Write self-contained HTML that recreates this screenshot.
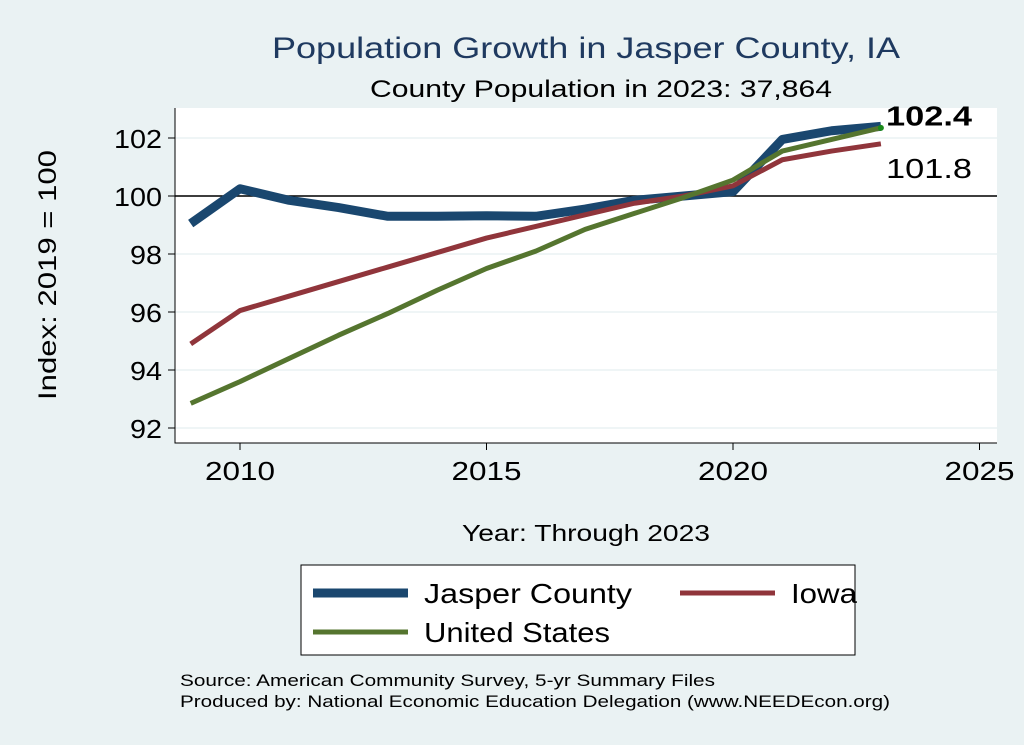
<!DOCTYPE html>
<html><head><meta charset="utf-8"><style>
body{margin:0;background:#eaf2f3;}
svg{display:block;font-family:"Liberation Sans",sans-serif;}
</style></head><body>
<svg id="chart" width="1024" height="745">
<rect x="0" y="0" width="1024" height="745" fill="#eaf2f3"/>
<text x="272" y="58" font-size="30" fill="#1f3a60" textLength="628" lengthAdjust="spacingAndGlyphs">Population Growth in Jasper County, IA</text>
<text x="370" y="97" font-size="24" fill="#000" textLength="462" lengthAdjust="spacingAndGlyphs">County Population in 2023: 37,864</text>
<rect x="175" y="108" width="822" height="335" fill="#fff"/>
<g id="grid"></g><g id="axes"></g><g id="series"></g>
<text x="56" y="400" font-size="25" textLength="250" lengthAdjust="spacingAndGlyphs" transform="rotate(-90 56 400)">Index: 2019 = 100</text>
<text x="462" y="541" font-size="23" textLength="248" lengthAdjust="spacingAndGlyphs">Year: Through 2023</text>
<g>
<rect x="301" y="565" width="554" height="90" fill="#fff" stroke="#000" stroke-width="1"/>
<line x1="313" y1="593" x2="408" y2="593" stroke="#1a476f" stroke-width="9"/>
<text x="424" y="603" font-size="28" textLength="208" lengthAdjust="spacingAndGlyphs">Jasper  County</text>
<line x1="680" y1="593" x2="775" y2="593" stroke="#90353b" stroke-width="5"/>
<text x="791" y="603" font-size="28" textLength="66" lengthAdjust="spacingAndGlyphs">Iowa</text>
<line x1="313" y1="632" x2="408" y2="632" stroke="#55752f" stroke-width="5"/>
<text x="424" y="642" font-size="28" textLength="186" lengthAdjust="spacingAndGlyphs">United States</text>
</g>
<text x="180" y="686" font-size="17" textLength="535" lengthAdjust="spacingAndGlyphs">Source: American Community Survey, 5-yr Summary Files</text>
<text x="180" y="707" font-size="17" textLength="710" lengthAdjust="spacingAndGlyphs">Produced by: National Economic Education Delegation (www.NEEDEcon.org)</text>
</svg>
<script>
const years=[2009,2010,2011,2012,2013,2014,2015,2016,2017,2018,2019,2020,2021,2022,2023];
const jasper=[99.05,100.25,99.85,99.6,99.3,99.3,99.32,99.3,99.55,99.85,100,100.15,101.95,102.25,102.4];
const iowa=[94.9,96.05,96.55,97.05,97.55,98.05,98.55,98.95,99.35,99.75,100,100.35,101.25,101.55,101.8];
const us=[92.85,93.6,94.4,95.2,95.95,96.75,97.5,98.1,98.85,99.4,99.95,100.55,101.55,101.95,102.35];
const yTicks=[92,94,96,98,100,102];
const xTicks=[2010,2015,2020,2025];
const NS='http://www.w3.org/2000/svg';
const x=v=>240+(v-2010)*49.3;
const y=v=>196-(v-100)*29;
function mk(t,a,p){const e=document.createElementNS(NS,t);for(const k in a)e.setAttribute(k,a[k]);p.appendChild(e);return e;}
const grid=document.getElementById('grid'),axes=document.getElementById('axes'),ser=document.getElementById('series');
yTicks.forEach(v=>{
 const g=mk('line',{x1:175,x2:997,y1:y(v),y2:y(v),stroke:'#eaf2f3','stroke-width':1.5},grid);
 
 
 const t=mk('line',{x1:168,x2:175,y1:y(v),y2:y(v),stroke:'#000'},axes);
 
 
 const s=String(v);
 const l=mk('text',{x:162,y:y(v)+10,'font-size':26,'text-anchor':'end',textLength:s.length*16,lengthAdjust:'spacingAndGlyphs'},axes);l.textContent=s;
 
 
});
xTicks.forEach(v=>{
 const t=mk('line',{x1:x(v),x2:x(v),y1:443,y2:450,stroke:'#000'},axes);
 
 
 const l=mk('text',{x:x(v),y:480,'font-size':26,'text-anchor':'middle',textLength:70,lengthAdjust:'spacingAndGlyphs'},axes);l.textContent=v;
 
 
});
const ax=mk('path',{d:'M175,108 V443 H997',fill:'none',stroke:'#000','stroke-width':1},axes);


const ref=mk('line',{x1:175,x2:997,y1:y(100),y2:y(100),stroke:'#000','stroke-width':1.5},axes);


function line(vals,col,w,name){
 const p=mk('polyline',{points:vals.map((v,i)=>x(years[i])+','+y(v)).join(' '),fill:'none',stroke:col,'stroke-width':w,'stroke-linejoin':'round'},ser);
 
 
}
line(jasper,'#1a476f',9,'line-jasper');
line(iowa,'#90353b',5,'line-iowa');
line(us,'#55752f',5,'line-us');
const last=years.length-1;
const d=mk('circle',{cx:x(years[last]),cy:y(us[last]),r:3,fill:'#1a8a1a'},ser);


const l1=mk('text',{x:886,y:y(jasper[last])-1,'font-size':28,'font-weight':'bold',textLength:86,lengthAdjust:'spacingAndGlyphs'},ser);l1.textContent=jasper[last].toFixed(1);


const l2=mk('text',{x:886,y:y(iowa[last])+34,'font-size':28,textLength:86,lengthAdjust:'spacingAndGlyphs'},ser);l2.textContent=iowa[last].toFixed(1);


</script>
</body></html>
